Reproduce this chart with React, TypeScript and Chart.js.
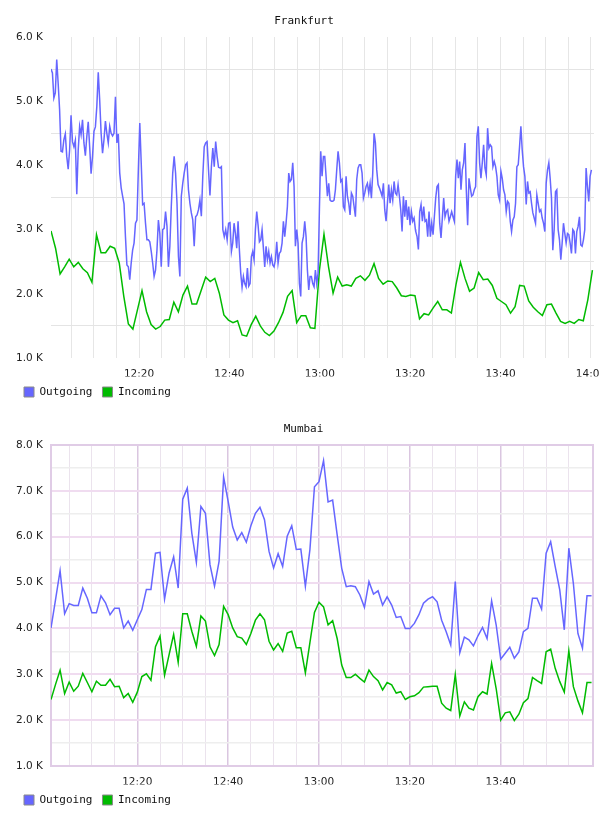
import { useEffect, useRef } from 'react';
import { Chart, registerables } from 'chart.js';

Chart.register(...registerables);

const SERIES_NAMES = ['Outgoing', 'Incoming'];
const SERIES_COLORS = ['#6666ff', '#00bb00'];

// Minutes after 12:00 that carry a time label
const TIME_TICK_MINUTES = [20, 40, 60, 80, 100, 120];
const TIME_TICK_LABELS = ['12:20', '12:40', '13:00', '13:20', '13:40', '14:00'];

// Frankfurt, values in thousands. Outgoing is sampled densely, stored per 40-minute window.
const fraOutgoingA = [
  5.5, 5.44, 5.05, 5.13, 5.65, 5.28, 4.87, 4.22, 4.21, 4.4,
  4.49, 4.14, 3.94, 4.24, 4.78, 4.37, 4.29, 4.39, 3.55, 4.24,
  4.61, 4.48, 4.71, 4.35, 4.15, 4.45, 4.68, 4.29, 3.87, 4.14,
  4.53, 4.6, 4.92, 5.45, 5.02, 4.5, 4.19, 4.4, 4.69, 4.5,
  4.35, 4.61, 4.5, 4.46, 4.5, 5.07, 4.35, 4.49, 3.88, 3.65,
  3.52, 3.4, 2.89, 2.45, 2.42, 2.22, 2.48, 2.68, 2.79, 3.1,
  3.15, 3.93, 4.66, 4.04, 3.39, 3.41, 3.1, 2.84, 2.84, 2.81,
  2.66, 2.48, 2.27, 2.37, 2.68, 3.15, 2.94, 2.42, 3.0, 3.02,
  3.28, 3.05, 2.42, 2.74, 3.36, 3.88, 4.14, 3.88, 3.41, 2.58,
  2.27, 3.52, 3.72, 3.88, 4.01, 4.04, 3.62, 3.41, 3.26, 3.15,
  2.74, 3.2, 3.23, 3.31, 3.46, 3.21, 3.83, 4.29, 4.35, 4.37,
  3.93, 3.53, 3.98, 4.27, 3.98, 4.37, 4.14, 3.97, 3.96, 3.98,
  3.0, 2.89, 3.0, 2.84, 3.1, 3.11,
];
const fraOutgoingB = [
  2.66, 2.79, 3.1, 2.94, 2.71, 3.13, 2.68, 2.32, 2.1, 2.27,
  2.16, 2.11, 2.4, 2.12, 2.16, 2.58, 2.66, 2.53, 3.0, 3.28,
  3.07, 2.81, 2.84, 3.0, 2.71, 2.42, 2.74, 2.53, 2.66, 2.48,
  2.58, 2.45, 2.42, 2.53, 2.81, 2.48, 2.63, 2.66, 2.79, 3.13,
  2.89, 3.1, 3.36, 3.88, 3.75, 3.78, 4.04, 3.67, 2.74, 3.0,
  2.79, 2.16, 1.96, 2.79, 2.89, 3.13, 2.89, 2.37, 2.06, 2.27,
  2.27, 2.16, 2.11, 2.37, 2.16, 2.32, 3.31, 4.22, 3.83, 4.14,
  4.14, 3.83, 3.52, 3.72, 3.46, 3.44, 3.44, 3.46, 3.62, 3.93,
  4.22, 4.04, 3.75, 3.78, 3.36, 3.31, 3.83, 3.52, 3.41, 3.23,
  3.57, 3.52, 3.36, 3.2, 3.78, 3.96, 4.01, 4.01, 3.88, 3.49,
  3.57, 3.67, 3.72, 3.57, 3.72, 3.49, 3.88, 4.5, 4.35, 3.93,
  3.7, 3.65, 3.59, 3.52, 3.72, 3.31, 3.13, 3.41, 3.7, 3.41,
  3.62, 3.46, 3.75, 3.57, 3.54, 3.7, 3.52, 3.31, 2.97, 3.52,
  3.2, 3.46, 3.15, 3.36, 3.07, 3.28, 3.13, 3.18, 3.0,
];
const fraOutgoingC = [
  2.97, 2.89, 2.69, 3.28, 3.39, 3.13, 3.36, 3.13, 3.15, 2.89,
  3.28, 2.89, 3.1, 2.92, 3.2, 3.49, 3.67, 3.7, 3.1, 2.87,
  3.18, 3.49, 3.2, 3.28, 3.31, 3.13, 3.2, 3.28, 3.2, 3.13,
  3.83, 4.09, 3.8, 4.06, 3.62, 3.93, 4.04, 4.35, 3.62, 3.07,
  3.8, 3.65, 3.52, 3.54, 3.62, 3.67, 4.45, 4.61, 4.04, 3.8,
  4.04, 4.32, 3.96, 3.85, 4.58, 4.27, 4.32, 4.29, 3.98, 4.06,
  3.98, 3.83, 3.54, 3.46, 3.91, 3.8, 3.62, 3.54, 3.28, 3.44,
  3.41, 3.13, 2.97, 3.15, 3.2, 3.41, 3.98, 4.01, 4.29, 4.61,
  4.24, 3.98, 3.83, 3.39, 3.75, 3.57, 3.59, 3.41, 3.26, 3.18,
  3.1, 3.54, 3.41, 3.28, 3.31, 3.18, 3.1, 2.97, 3.72, 3.93,
  4.04, 3.8, 3.49, 2.68, 3.0, 3.59, 3.62, 3.0, 2.84, 2.53,
  2.79, 3.1, 2.94, 2.79, 2.94, 2.92, 2.79, 2.63, 3.0, 2.97,
  2.63, 2.97, 3.05, 3.2, 2.76, 2.74, 2.84, 3.0, 3.96, 3.67,
  3.44, 3.83, 3.93,
];
// Window boundaries, minutes after 12:00
const fraOutgoingSpans: [number, number][] = [[0.52, 40.13], [40.44, 81.16], [81.23, 120.11]];

// Frankfurt incoming, one sample per minute
const fraIncoming = [
  2.98, 2.71, 2.31, 2.42, 2.54, 2.42, 2.49, 2.39, 2.33, 2.18,
  2.92, 2.64, 2.64, 2.74, 2.71, 2.48, 1.96, 1.53, 1.45, 1.75,
  2.05, 1.72, 1.52, 1.45, 1.49, 1.59, 1.6, 1.87, 1.72, 1.98,
  2.12, 1.84, 1.84, 2.05, 2.26, 2.19, 2.24, 2.01, 1.67, 1.59,
  1.55, 1.58, 1.36, 1.34, 1.52, 1.65, 1.5, 1.4, 1.35, 1.42,
  1.55, 1.71, 1.96, 2.05, 1.55, 1.66, 1.66, 1.47, 1.46, 2.37,
  2.93, 2.42, 2.01, 2.26, 2.12, 2.14, 2.12, 2.24, 2.28, 2.21,
  2.29, 2.47, 2.24, 2.15, 2.2, 2.19, 2.09, 1.97, 1.96, 1.98,
  1.97, 1.61, 1.69, 1.67, 1.78, 1.88, 1.75, 1.75, 1.7, 2.14,
  2.49, 2.24, 2.04, 2.09, 2.33, 2.22, 2.23, 2.13, 1.93, 1.88,
  1.83, 1.7, 1.8, 2.13, 2.12, 1.89, 1.79, 1.72, 1.66, 1.83,
  1.84, 1.7, 1.57, 1.54, 1.57, 1.54, 1.6, 1.58, 1.91, 2.37,
];
const fraIncomingSpan: [number, number] = [0.52, 120.33];

// Mumbai, values in thousands, one sample per minute from 12:01 to 14:00
const mumOutgoing = [
  4.01, 4.63, 5.26, 4.32, 4.54, 4.5, 4.5, 4.88, 4.66, 4.34,
  4.34, 4.71, 4.56, 4.3, 4.44, 4.44, 4.01, 4.16, 3.96, 4.19,
  4.41, 4.85, 4.85, 5.64, 5.66, 4.64, 5.21, 5.56, 4.88, 6.82,
  7.06, 6.08, 5.44, 6.66, 6.51, 5.39, 4.92, 5.46, 7.3, 6.77,
  6.21, 5.93, 6.09, 5.88, 6.24, 6.51, 6.64, 6.37, 5.68, 5.32,
  5.63, 5.35, 6.01, 6.24, 5.72, 5.73, 4.92, 5.72, 7.09, 7.2,
  7.66, 6.76, 6.8, 6.04, 5.31, 4.91, 4.93, 4.91, 4.73, 4.46,
  5.02, 4.75, 4.82, 4.51, 4.69, 4.51, 4.24, 4.26, 4.0, 4.0,
  4.11, 4.3, 4.55, 4.64, 4.69, 4.58, 4.18, 3.93, 3.64, 5.02,
  3.47, 3.81, 3.75, 3.62, 3.84, 4.02, 3.78, 4.6, 4.08, 3.33,
  3.46, 3.59, 3.35, 3.49, 3.93, 4.0, 4.66, 4.66, 4.42, 5.64,
  5.89, 5.35, 4.84, 3.97, 5.75, 4.98, 3.89, 3.57, 4.71, 4.71,
];
const mumIncoming = [
  2.45, 2.78, 3.09, 2.58, 2.83, 2.63, 2.74, 3.02, 2.82, 2.62,
  2.85, 2.76, 2.76, 2.89, 2.73, 2.74, 2.49, 2.58, 2.39, 2.61,
  2.95, 3.01, 2.87, 3.6, 3.83, 2.98, 3.43, 3.87, 3.26, 4.32,
  4.32, 3.94, 3.61, 4.27, 4.16, 3.6, 3.41, 3.65, 4.48, 4.3,
  4.01, 3.82, 3.79, 3.65, 3.89, 4.18, 4.32, 4.19, 3.72, 3.53,
  3.67, 3.5, 3.9, 3.94, 3.58, 3.58, 3.03, 3.69, 4.35, 4.57,
  4.47, 4.08, 4.17, 3.78, 3.2, 2.93, 2.93, 3.0, 2.91, 2.83,
  3.09, 2.95, 2.86, 2.66, 2.82, 2.77, 2.59, 2.62, 2.45, 2.51,
  2.53, 2.6, 2.72, 2.73, 2.74, 2.74, 2.37, 2.26, 2.21, 2.99,
  2.09, 2.4, 2.26, 2.22, 2.51, 2.62, 2.57, 3.24, 2.69, 2.0,
  2.16, 2.18, 1.99, 2.13, 2.38, 2.47, 2.93, 2.86, 2.8, 3.49,
  3.55, 3.13, 2.84, 2.61, 3.51, 2.73, 2.42, 2.16, 2.82, 2.82,
];
const mumSpan: [number, number] = [1, 120];

type Pt = { x: number; y: number };

// Place evenly sampled values between two times (minutes after 12:00)
function spread(values: number[], span: [number, number]): Pt[] {
  const [start, end] = span;
  return values.map((y, i) => ({ x: start + ((end - start) * i) / (values.length - 1), y }));
}

const isWhole = (v: number) => Math.abs(v - Math.round(v)) < 1e-6;

// Outline around the plotting area
const frameBorder = {
  id: 'frameBorder',
  beforeDatasetsDraw(chart: any, _args: any, opts: any) {
    if (!opts || !opts.color) return;
    const { ctx, chartArea } = chart;
    const { left, top, right, bottom } = chartArea;
    ctx.save();
    ctx.strokeStyle = opts.color;
    ctx.lineWidth = opts.width || 1;
    ctx.strokeRect(left, top, right - left, bottom - top);
    ctx.restore();
  },
};

type PanelProps = {
  title: string;
  outgoing: Pt[];
  incoming: Pt[];
  xMin: number;
  xMax: number;
  yMin: number;
  yMax: number;
  framed: boolean;
  padRight: number;
  hideLastTime: boolean;
};

const TICK_FONT = { family: '"DejaVu Sans", sans-serif', size: 10.5 };
const MONO_FONT = { family: '"DejaVu Sans Mono", monospace', size: 11, weight: 'normal' as const };

function TrafficPanel(props: PanelProps) {
  const ref = useRef<HTMLCanvasElement>(null);

  useEffect(() => {
    const canvas = ref.current;
    if (!canvas) return;
    const { framed } = props;

    const chart = new Chart(canvas, {
      type: 'line',
      data: {
        datasets: [props.outgoing, props.incoming].map((data, i) => ({
          label: SERIES_NAMES[i],
          data,
          borderColor: SERIES_COLORS[i],
          backgroundColor: SERIES_COLORS[i],
          borderWidth: 1.5,
          pointRadius: 0,
          pointHoverRadius: 0,
          tension: 0,
          fill: false,
        })),
      },
      options: {
        animation: false,
        responsive: false,
        maintainAspectRatio: false,
        events: [],
        layout: { padding: { left: 6, right: props.padRight, top: 0, bottom: 8.5 } },
        plugins: {
          title: {
            display: true,
            text: props.title,
            color: '#111',
            font: MONO_FONT,
            padding: { top: 6.1, bottom: 9.7 },
          },
          legend: {
            position: 'bottom',
            align: 'start',
            labels: {
              boxWidth: 10,
              boxHeight: 10,
              padding: 10,
              color: '#111',
              font: MONO_FONT,
              generateLabels: (c: any) =>
                c.data.datasets.map((ds: any, i: number) => ({
                  text: ds.label,
                  fillStyle: ds.borderColor,
                  strokeStyle: '#8a8a8a',
                  lineWidth: 1,
                  hidden: false,
                  datasetIndex: i,
                  fontColor: '#111',
                })),
            },
          },
          tooltip: { enabled: false },
          frameBorder: framed ? { color: '#e0cce6', width: 2 } : {},
        } as any,
        scales: {
          x: {
            type: 'linear',
            min: props.xMin,
            max: props.xMax,
            border: { display: false },
            grid: {
              drawTicks: false,
              color: (ctx: any) => {
                const v = ctx.tick ? ctx.tick.value : 0;
                if (!framed) return '#e6e6e6';
                if (props.hideLastTime && v >= 120) return 'rgba(0,0,0,0)';
                return TIME_TICK_MINUTES.includes(Math.round(v)) ? '#dac6e0' : '#ebe3ed';
              },
              lineWidth: (ctx: any) => {
                const v = ctx.tick ? ctx.tick.value : 0;
                return framed && TIME_TICK_MINUTES.includes(Math.round(v)) ? 1.5 : 1;
              },
            },
            ticks: {
              stepSize: 5,
              includeBounds: false,
              autoSkip: false,
              maxRotation: 0,
              maxTicksLimit: 1000,
              padding: 10,
              color: '#222',
              font: TICK_FONT,
              callback: (value: any) => {
                const v = Number(value);
                const i = TIME_TICK_MINUTES.indexOf(Math.round(v));
                if (i < 0 || !isWhole(v)) return '';
                if (props.hideLastTime && i === TIME_TICK_MINUTES.length - 1) return '';
                return TIME_TICK_LABELS[i];
              },
            },
            afterFit: (scale: any) => {
              scale.height = 18.5;
              scale.paddingLeft = 0;
              scale.paddingRight = 0;
            },
          },
          y: {
            min: props.yMin,
            max: props.yMax,
            border: { display: false },
            grid: {
              drawTicks: false,
              color: (ctx: any) => {
                const v = ctx.tick ? ctx.tick.value : 0;
                if (!framed) return isWhole(v) ? 'rgba(0,0,0,0)' : '#e4e4e4';
                return isWhole(v) ? '#f0dcf0' : '#eeeeee';
              },
              lineWidth: (ctx: any) => {
                const v = ctx.tick ? ctx.tick.value : 0;
                return framed ? (isWhole(v) ? 2 : 1.5) : 1;
              },
            },
            ticks: {
              stepSize: 0.5,
              maxTicksLimit: 1000,
              padding: 8,
              color: '#222',
              font: TICK_FONT,
              callback: (value: any) => {
                const v = Number(value);
                return isWhole(v) ? `${v.toFixed(1)} K` : '';
              },
            },
            afterFit: (scale: any) => {
              scale.width = 37;
            },
          },
        },
      } as any,
      plugins: [frameBorder as any],
    });

    return () => chart.destroy();
  }, [props]);

  return (
    <canvas
      ref={ref}
      width={596}
      height={408}
      style={{ display: 'block', width: 596, height: 408 }}
    />
  );
}

const frankfurtOutgoing: Pt[] = [
  ...spread(fraOutgoingA, fraOutgoingSpans[0]),
  ...spread(fraOutgoingB, fraOutgoingSpans[1]),
  ...spread(fraOutgoingC, fraOutgoingSpans[2]),
];
const frankfurtIncoming = spread(fraIncoming, fraIncomingSpan);
const mumbaiOutgoing = spread(mumOutgoing, mumSpan);
const mumbaiIncoming = spread(mumIncoming, mumSpan);

export default function App() {
  return (
    <div style={{ width: 596, height: 800, overflow: 'hidden' }}>
      <TrafficPanel
        title="Frankfurt"
        outgoing={frankfurtOutgoing}
        incoming={frankfurtIncoming}
        xMin={0.52}
        xMax={120.68}
        yMin={1}
        yMax={6}
        framed={false}
        padRight={10}
        hideLastTime={false}
      />
      <TrafficPanel
        title="Mumbai"
        outgoing={mumbaiOutgoing}
        incoming={mumbaiIncoming}
        xMin={1}
        xMax={120.32}
        yMin={1}
        yMax={8}
        framed={true}
        padRight={11}
        hideLastTime={true}
      />
    </div>
  );
}
